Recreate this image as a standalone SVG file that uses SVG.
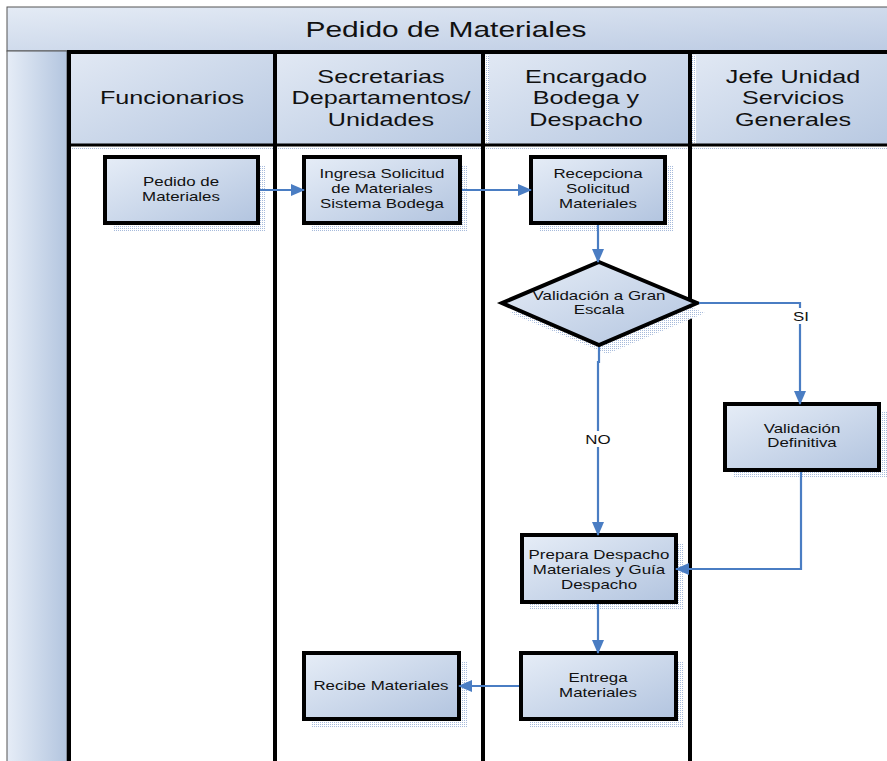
<svg xmlns="http://www.w3.org/2000/svg" width="887" height="761" viewBox="0 0 887 761">
<defs>
<linearGradient id="gNode" x1="0" y1="0" x2="1" y2="1">
<stop offset="0" stop-color="#e6edf7"/><stop offset="1" stop-color="#b2c4df"/>
</linearGradient>
<linearGradient id="gHead" x1="0" y1="0" x2="1" y2="1">
<stop offset="0" stop-color="#e2e9f4"/><stop offset="1" stop-color="#b7c8e1"/>
</linearGradient>
<linearGradient id="gTitle" x1="0" y1="0" x2="1" y2="1">
<stop offset="0" stop-color="#e4ebf5"/><stop offset="1" stop-color="#bccbe3"/>
</linearGradient>
<linearGradient id="gLeft" x1="0" y1="0" x2="1" y2="0">
<stop offset="0" stop-color="#e6edf7"/><stop offset="1" stop-color="#b3c5df"/>
</linearGradient>
<pattern id="dots" width="2" height="2" patternUnits="userSpaceOnUse">
<rect width="2" height="2" fill="#ffffff"/>
<rect width="1" height="1" fill="#a6badb"/>
</pattern>
<marker id="arr" viewBox="0 0 14 12" refX="13" refY="6" markerWidth="14" markerHeight="12" markerUnits="userSpaceOnUse" orient="auto">
<path d="M0,0 L14,6 L0,12 z" fill="#4a7dc3"/>
</marker>
<style>
.node{fill:url(#gNode);stroke:#000;stroke-width:4}
.shadow{fill:url(#dots)}
.t{font-family:"Liberation Sans",Arial,sans-serif;font-size:13px;fill:#111;text-anchor:middle}
.h{font-family:"Liberation Sans",Arial,sans-serif;font-size:18px;fill:#111;text-anchor:middle}
.hd{fill:url(#gHead)}
.lane{stroke:#000;stroke-width:4;fill:none}
.c{stroke:#4a7dc3;stroke-width:2.2;fill:none}
</style>
</defs>
<rect width="887" height="761" fill="#ffffff"/>
<g id="pool">
<rect x="7" y="7" width="885" height="44" fill="url(#gTitle)" stroke="#555" stroke-width="1"/>
<text class="h" font-size="22" transform="translate(446,37) scale(1.36,1)" style="font-size:22px">Pedido de Materiales</text>
<rect x="7" y="51" width="60" height="715" fill="url(#gLeft)" stroke="#555" stroke-width="1"/>
<rect class="hd" x="69" y="52" width="206" height="93"/>
<rect class="hd" x="275" y="52" width="208" height="93"/>
<rect class="hd" x="483" y="52" width="207" height="93"/>
<rect class="hd" x="690" y="52" width="200" height="93"/>
<rect x="69" y="147" width="820" height="3" fill="url(#dots)"/>
<rect x="485" y="55" width="4" height="90" fill="url(#dots)"/>
<rect x="692" y="55" width="4" height="90" fill="url(#dots)"/>
<line x1="67" y1="52" x2="887" y2="52" class="lane"/>
<line x1="69" y1="145" x2="887" y2="145" stroke="#000" stroke-width="3"/>
<line x1="69" y1="52" x2="69" y2="761" class="lane"/>
<line x1="275" y1="52" x2="275" y2="761" class="lane"/>
<line x1="483" y1="52" x2="483" y2="761" class="lane"/>
<line x1="690" y1="52" x2="690" y2="761" class="lane"/>
</g>
<g id="lane-headers">
<text class="h" transform="translate(172,104) scale(1.4,1)">Funcionarios</text>
<text class="h" transform="translate(381,83) scale(1.4,1)">Secretarias</text>
<text class="h" transform="translate(381,104) scale(1.4,1)">Departamentos/</text>
<text class="h" transform="translate(381,126) scale(1.4,1)">Unidades</text>
<text class="h" transform="translate(586,83) scale(1.4,1)">Encargado</text>
<text class="h" transform="translate(586,104) scale(1.4,1)">Bodega y</text>
<text class="h" transform="translate(586,126) scale(1.4,1)">Despacho</text>
<text class="h" transform="translate(793,83) scale(1.4,1)">Jefe Unidad</text>
<text class="h" transform="translate(793,104) scale(1.4,1)">Servicios</text>
<text class="h" transform="translate(793,126) scale(1.4,1)">Generales</text>
</g>
<g id="n-pedido">
<rect class="shadow" x="113" y="165" width="153" height="66"/>
<rect class="node" x="105" y="157" width="153" height="66"/>
<text class="t" transform="translate(181,186) scale(1.3,1)">Pedido de</text>
<text class="t" transform="translate(181,201) scale(1.3,1)">Materiales</text>
</g>
<g id="n-ingresa">
<rect class="shadow" x="312" y="165" width="156" height="66"/>
<rect class="node" x="304" y="157" width="156" height="66"/>
<text class="t" transform="translate(382,178) scale(1.3,1)">Ingresa Solicitud</text>
<text class="t" transform="translate(382,193) scale(1.3,1)">de Materiales</text>
<text class="t" transform="translate(382,208) scale(1.3,1)">Sistema Bodega</text>
</g>
<g id="n-recepciona">
<rect class="shadow" x="539" y="165" width="134" height="66"/>
<rect class="node" x="531" y="157" width="134" height="66"/>
<text class="t" transform="translate(598,178) scale(1.3,1)">Recepciona</text>
<text class="t" transform="translate(598,193) scale(1.3,1)">Solicitud</text>
<text class="t" transform="translate(598,208) scale(1.3,1)">Materiales</text>
</g>
<g id="n-validacion-gran">
<polygon class="shadow" points="607,272 705,313 607,354 510,313"/>
<polygon class="node" points="599,262 697,303 599,345 502,303"/>
<text class="t" transform="translate(599,300) scale(1.3,1)">Validación a Gran</text>
<text class="t" transform="translate(599,314) scale(1.3,1)">Escala</text>
</g>
<g id="n-validacion-def">
<rect class="shadow" x="733" y="412" width="154" height="66"/>
<rect class="node" x="725" y="404" width="154" height="66"/>
<text class="t" transform="translate(802,433) scale(1.3,1)">Validación</text>
<text class="t" transform="translate(802,447) scale(1.3,1)">Definitiva</text>
</g>
<g id="n-prepara">
<rect class="shadow" x="530" y="543" width="154" height="67"/>
<rect class="node" x="522" y="535" width="154" height="67"/>
<text class="t" transform="translate(599,559) scale(1.3,1)">Prepara Despacho</text>
<text class="t" transform="translate(599,574) scale(1.3,1)">Materiales y Guía</text>
<text class="t" transform="translate(599,589) scale(1.3,1)">Despacho</text>
</g>
<g id="n-entrega">
<rect class="shadow" x="529" y="661" width="155" height="66"/>
<rect class="node" x="521" y="653" width="155" height="66"/>
<text class="t" transform="translate(598,682) scale(1.3,1)">Entrega</text>
<text class="t" transform="translate(598,697) scale(1.3,1)">Materiales</text>
</g>
<g id="n-recibe">
<rect class="shadow" x="312" y="661" width="155" height="66"/>
<rect class="node" x="304" y="653" width="155" height="66"/>
<text class="t" transform="translate(381,690) scale(1.3,1)">Recibe Materiales</text>
</g>
<g id="connectors">
<line class="c" x1="260" y1="190" x2="304" y2="190" marker-end="url(#arr)"/>
<line class="c" x1="462" y1="190" x2="531" y2="190" marker-end="url(#arr)"/>
<line class="c" x1="598" y1="225" x2="598" y2="262" marker-end="url(#arr)"/>
<polyline class="c" points="699,303 800,303 800,404" marker-end="url(#arr)"/>
<polyline class="c" points="599,347 599,362 598,362 598,535" marker-end="url(#arr)"/>
<polyline class="c" points="801,472 801,569 676,569" marker-end="url(#arr)"/>
<line class="c" x1="598" y1="604" x2="598" y2="653" marker-end="url(#arr)"/>
<line class="c" x1="519" y1="686" x2="459" y2="686" marker-end="url(#arr)"/>
<rect x="790" y="308" width="22" height="16" fill="#ffffff"/>
<text class="t" transform="translate(801,321) scale(1.3,1)">SI</text>
<rect x="582" y="431" width="32" height="16" fill="#ffffff"/>
<text class="t" transform="translate(598,444) scale(1.3,1)">NO</text>
</g>
</svg>
